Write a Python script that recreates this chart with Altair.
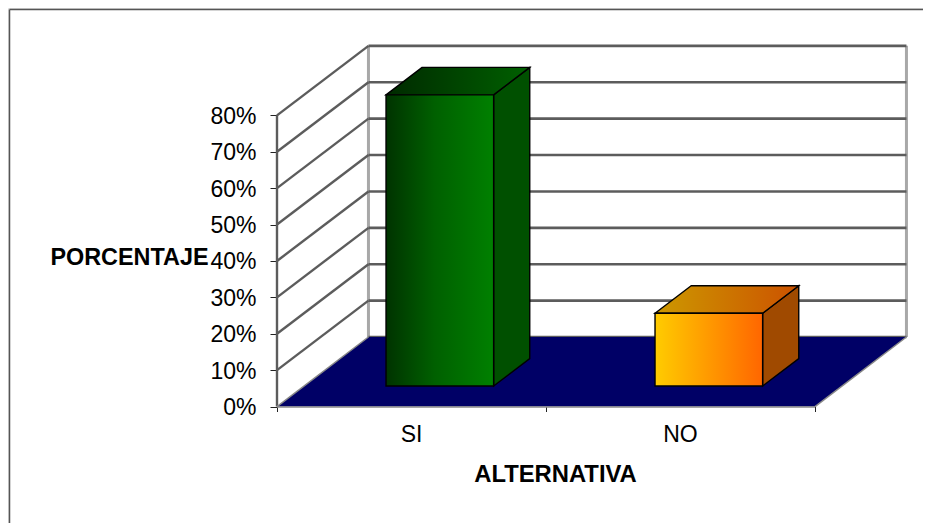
import altair as alt
import pandas as pd

categories = ["SI", "NO"]
values = [80, 20]
tick_values = [0, 10, 20, 30, 40, 50, 60, 70, 80]
category_edges = [0, 1, 2]

# depth of the pseudo-3D box, in axis units
DX, DY = 0.34, 19.1
BAR_NEAR, BAR_FAR = 0.295, 0.69
BAR_L, BAR_R = 0.305, 0.705
W, H = 915, 515
X_MIN, X_MAX = -1, 2.4015
Y_MIN, Y_MAX = -32, 109.5
FRAME_X, FRAME_Y = -0.9944, 109.07

XS = alt.Scale(domain=[X_MIN, X_MAX], range=[0, W], nice=False, zero=False)
YS = alt.Scale(domain=[Y_MIN, Y_MAX], range=[H, 0], nice=False, zero=False)

AX = alt.Axis(
    values=category_edges, labels=False, domain=False, grid=False,
    tickColor="#222222", tickSize=5, tickWidth=1, offset=-116.5,
    title="ALTERNATIVA", titleFont="Liberation Sans", titleFontSize=23.8,
    titleFontWeight="bold", titleColor="#000000", titleX=547, titleY=68,
    titleAlign="center", titleBaseline="middle")
AY = alt.Axis(
    values=tick_values, labelExpr="datum.value + '%'", domain=False, grid=False,
    tickColor="#222222", tickSize=7, tickWidth=1, offset=-269,
    labelFont="Liberation Sans", labelFontSize=23, labelColor="#000000",
    labelPadding=14, labelOffset=1,
    title="PORCENTAJE", titleFont="Liberation Sans", titleFontSize=23.4,
    titleFontWeight="bold", titleColor="#000000", titleAngle=0,
    titleAlign="center", titleBaseline="middle", titleX=-148, titleY=249)


def X(f="x"):
    return alt.X(f"{f}:Q", scale=XS, axis=AX)


def Y(f="y"):
    return alt.Y(f"{f}:Q", scale=YS, axis=AY)


def segments(rows, color, width):
    return alt.Chart(pd.DataFrame(rows, columns=["x", "y", "x2", "y2"])).mark_rule(
        color=color, strokeWidth=width
    ).encode(x=X(), y=Y(), x2="x2:Q", y2="y2:Q")


def horiz_para(rows, **kw):
    # rows: y, x, x2
    return alt.Chart(pd.DataFrame(rows, columns=["y", "x", "x2"])).mark_area(
        orient="horizontal", **kw
    ).encode(y=Y(), x=X(), x2="x2:Q")


def vert_para(rows, **kw):
    # rows: x, y, y2
    return alt.Chart(pd.DataFrame(rows, columns=["x", "y", "y2"])).mark_area(
        orient="vertical", **kw
    ).encode(x=X(), y=Y(), y2="y2:Q")


def lin(stops, x2=1, y2=0):
    return alt.Gradient(
        gradient="linear", x1=0, y1=0, x2=x2, y2=y2,
        stops=[alt.GradientStop(offset=o, color=c) for o, c in stops],
    )


layers = []

# frame (top and left edges only)
layers.append(segments([[FRAME_X, FRAME_Y, X_MAX, FRAME_Y]], "#555555", 1.5))
layers.append(segments([[FRAME_X, FRAME_Y, FRAME_X, Y_MIN]], "#555555", 1.5))

# back wall and left wall
layers.append(segments(
    [[DX, DY, DX, tick_values[-1] + DY], [2 + DX, DY, 2 + DX, tick_values[-1] + DY]],
    "#a8a8a8", 3))
layers.append(segments(
    [[DX, t + DY, 2 + DX, t + DY] for t in tick_values], "#5c5c5c", 2.6))
layers.append(segments(
    [[0, t, DX, t + DY] for t in tick_values[1:]], "#5c5c5c", 2.4))
layers.append(segments([[0, 0, 0, tick_values[-1]]], "#5c5c5c", 2.4))

# floor
layers.append(horiz_para([[0, 0, 2], [DY, DX, 2 + DX]], color="#000066"))
layers.append(segments([[0, -0.15, 2, -0.15], [2, 0, 2 + DX, DY], [0, 0, DX, DY]], "#888888", 1.5))

# bars
styles = [
    dict(front=[(0, "#003300"), (0.45, "#006000"), (1, "#008000")],
         top=[(0, "#002a00"), (1, "#006000")], side="#005000"),
    dict(front=[(0, "#ffcc00"), (1, "#ff6600")],
         top=[(0, "#cc9900"), (1, "#cc5200")], side="#a04a00"),
]
for i, (cat, val) in enumerate(zip(categories, values)):
    s = styles[i]
    l = i + BAR_L
    r = i + BAR_R
    dx0, dy0 = BAR_NEAR * DX, BAR_NEAR * DY
    dx1, dy1 = BAR_FAR * DX, BAR_FAR * DY
    layers.append(vert_para(
        [[r + dx0, dy0, dy0 + val], [r + dx1, dy1, dy1 + val]],
        color=s["side"], stroke="#000000", strokeWidth=1.4))
    layers.append(horiz_para(
        [[dy0 + val, l + dx0, r + dx0], [dy1 + val, l + dx1, r + dx1]],
        color=lin(s["top"]), stroke="#000000", strokeWidth=1.4))
    layers.append(alt.Chart(pd.DataFrame(
        [{"x": l + dx0, "x2": r + dx0, "y": dy0, "y2": dy0 + val}]
    )).mark_rect(color=lin(s["front"]), stroke="#000000", strokeWidth=1.4).encode(
        x=X(), x2="x2:Q", y=Y(), y2="y2:Q"))

# category labels
labels = alt.Chart(pd.DataFrame(
    {"x": [i + 0.5 for i in range(len(categories))], "y": [-7.8] * len(categories), "t": categories}
)).mark_text(font="Liberation Sans", fontSize=23, color="#000000").encode(
    x=X(), y=Y(), text="t:N")
layers.append(labels)

chart = alt.layer(*layers).properties(
    width=W, height=H, padding=0, autosize=alt.AutoSizeParams(type="none"),
).configure_view(stroke=None).configure(background="white")

chart.save("out.html", embed_options={"renderer": "svg", "actions": False})
